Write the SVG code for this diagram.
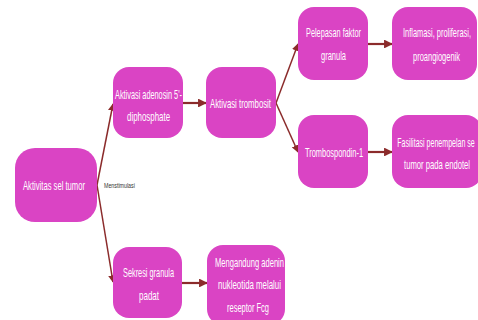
<svg xmlns="http://www.w3.org/2000/svg" width="478" height="320" viewBox="0 0 478 320">
<defs>
<style>
.box{fill:#DA44C4;}
.t{fill:#ffffff;font-family:"Liberation Sans",Arial,sans-serif;font-size:12px;text-anchor:middle;}
.lbl{fill:#333333;font-family:"Liberation Sans",Arial,sans-serif;font-size:8px;}
.c{stroke:#8B2B2B;fill:none;stroke-width:1.5;}
.a{stroke:#8B2B2B;fill:none;stroke-width:2.2;}
</style>
<marker id="ah" viewBox="0 0 10 10" refX="9" refY="5" markerWidth="4" markerHeight="4" orient="auto" markerUnits="strokeWidth">
<path d="M0,0 L10,5 L0,10 z" fill="#8B2B2B"/>
</marker>
<marker id="ah2" viewBox="0 0 10 10" refX="9" refY="5" markerWidth="5" markerHeight="5" orient="auto" markerUnits="strokeWidth">
<path d="M0,0 L10,5 L0,10 z" fill="#8B2B2B"/>
</marker>
</defs>
<rect width="478" height="320" fill="#ffffff"/>
<g id="connectors">
<path class="c" d="M97,185 L113,104" marker-end="url(#ah2)"/>
<path class="c" d="M97,185 L113,282" marker-end="url(#ah2)"/>
<path class="a" d="M183,103 L206,103" marker-end="url(#ah)"/>
<path class="c" d="M276,103 L298,44" marker-end="url(#ah2)"/>
<path class="c" d="M276,103 L298,152" marker-end="url(#ah2)"/>
<path class="a" d="M368,44 L392,44" marker-end="url(#ah)"/>
<path class="a" d="M368,152 L392,152" marker-end="url(#ah)"/>
<path class="a" d="M182,283 L207,283" marker-end="url(#ah)"/>
<text class="lbl" transform="translate(104,188) scale(0.63,1)" x="0" y="0" textLength="49" lengthAdjust="spacingAndGlyphs">Menstimulasi</text>
</g>
<g id="n1"><rect class="box" x="15" y="148" width="82" height="74" rx="20"/>
<text class="t" transform="translate(54,190) scale(0.63,1)" textLength="98.4" lengthAdjust="spacingAndGlyphs">Aktivitas sel tumor</text></g>
<g id="n2"><rect class="box" x="113" y="67" width="70" height="71" rx="16"/>
<text class="t" transform="translate(148.5,99) scale(0.63,1)" textLength="106.3" lengthAdjust="spacingAndGlyphs">Aktivasi adenosin 5'-</text>
<text class="t" transform="translate(148.5,121) scale(0.63,1)" textLength="68.3" lengthAdjust="spacingAndGlyphs">diphosphate</text></g>
<g id="n3"><rect class="box" x="206" y="67" width="70" height="71" rx="16"/>
<text class="t" transform="translate(240.5,108) scale(0.63,1)" textLength="96.8" lengthAdjust="spacingAndGlyphs">Aktivasi trombosit</text></g>
<g id="n4"><rect class="box" x="298" y="7" width="70" height="73" rx="16"/>
<text class="t" transform="translate(333.5,37) scale(0.63,1)" textLength="87.3" lengthAdjust="spacingAndGlyphs">Pelepasan faktor</text>
<text class="t" transform="translate(333.5,60) scale(0.63,1)" textLength="39.7" lengthAdjust="spacingAndGlyphs">granula</text></g>
<g id="n5"><rect class="box" x="392" y="7" width="85" height="73" rx="16"/>
<text class="t" transform="translate(437,37) scale(0.63,1)" textLength="107.9" lengthAdjust="spacingAndGlyphs">Inflamasi, proliferasi,</text>
<text class="t" transform="translate(436.5,61) scale(0.63,1)" textLength="74.6" lengthAdjust="spacingAndGlyphs">proangiogenik</text></g>
<g id="n6"><rect class="box" x="298" y="115" width="70" height="73" rx="16"/>
<text class="t" transform="translate(334,157) scale(0.63,1)" textLength="92.1" lengthAdjust="spacingAndGlyphs">Trombospondin-1</text></g>
<g id="n7"><rect class="box" x="392" y="115" width="90" height="73" rx="16"/>
<text class="t" transform="translate(436,147) scale(0.63,1)" textLength="123" lengthAdjust="spacingAndGlyphs">Fasilitasi penempelan se</text>
<text class="t" transform="translate(437,169) scale(0.63,1)" textLength="104.8" lengthAdjust="spacingAndGlyphs">tumor pada endotel</text></g>
<g id="n8"><rect class="box" x="113" y="247" width="69" height="71" rx="16"/>
<text class="t" transform="translate(148.5,277) scale(0.63,1)" textLength="81" lengthAdjust="spacingAndGlyphs">Sekresi granula</text>
<text class="t" transform="translate(149,300) scale(0.63,1)" textLength="31.7" lengthAdjust="spacingAndGlyphs">padat</text></g>
<g id="n9"><rect class="box" x="207" y="245" width="78" height="80" rx="16"/>
<text class="t" transform="translate(249.5,267) scale(0.63,1)" textLength="109.5" lengthAdjust="spacingAndGlyphs">Mengandung adenin</text>
<text class="t" transform="translate(249.5,289) scale(0.63,1)" textLength="100" lengthAdjust="spacingAndGlyphs">nukleotida melalui</text>
<text class="t" transform="translate(248,312) scale(0.63,1)" textLength="66.7" lengthAdjust="spacingAndGlyphs">reseptor Fcg</text></g>
</svg>
